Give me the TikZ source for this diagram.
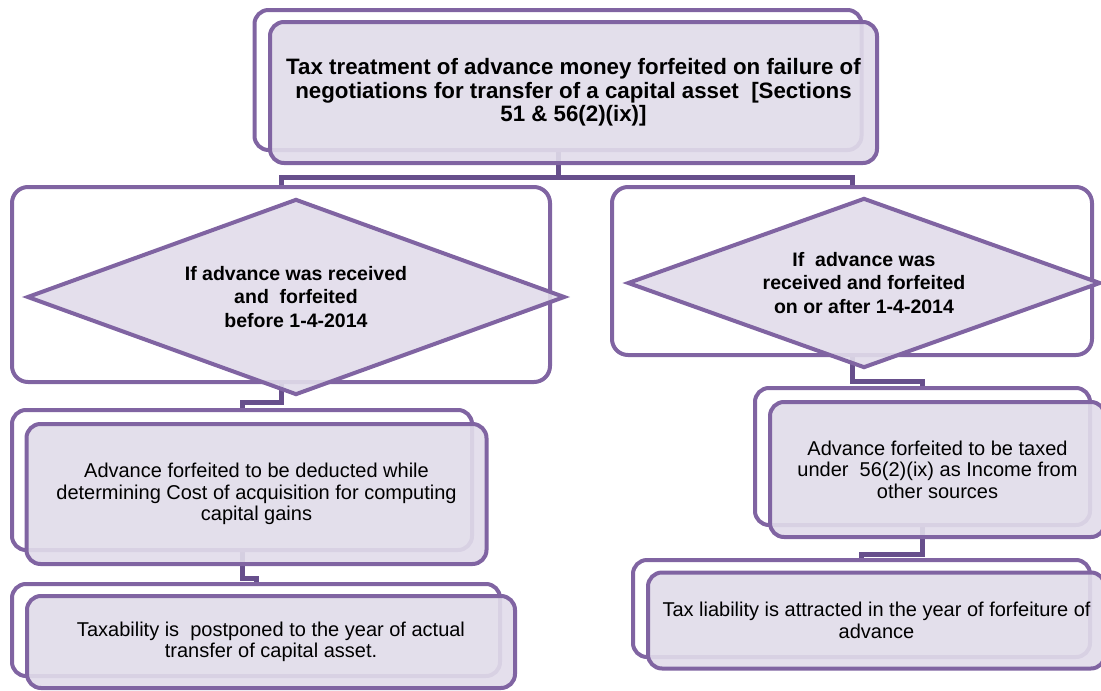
\documentclass[tikz,border=0pt]{standalone}
\usepackage{fontspec}
\setmainfont{Liberation Sans}
\usetikzlibrary{positioning}
\usetikzlibrary{shapes.geometric}
\usetikzlibrary{backgrounds}

\definecolor{boxline}{HTML}{8064A2}
\definecolor{boxfill}{HTML}{E1DCEA}
\definecolor{linkline}{HTML}{674F8C}

\begin{document}
\begin{tikzpicture}[
    x=1pt, y=-1pt,
    cardback/.style={draw=boxline, line width=4pt, rounded corners=14pt, fill=white},
    card/.style={draw=boxline, line width=4pt, rounded corners=14pt, fill=boxfill,
      fill opacity=0.91, text opacity=1, align=center,
      font=\fontsize{20}{21.5}\selectfont},
    panel/.style={draw=boxline, line width=4pt, rounded corners=16pt},
    cond/.style={diamond, draw=boxline, line width=4pt, fill=boxfill,
      fill opacity=0.91, text opacity=1, inner sep=0pt, align=center,
      font=\fontsize{19.5}{23.5}\selectfont\bfseries},
    branch/.style={draw=linkline, line width=5pt}
    ]

    \useasboundingbox (0,0) rectangle (1101,691);

    % heading
    \node[cardback, minimum width=607, minimum height=140] (head0) at (558,80) {};
    \node[card, minimum width=607, minimum height=141,
      font=\fontsize{22.3}{23.5}\selectfont\bfseries] (head) at ([shift={(15.5,12.5)}]head0)
      {Tax treatment of advance money forfeited on failure of\\
       negotiations for transfer of a capital asset~ [Sections\\
       51 \& 56(2)(ix)]};

    % left branch
    \node[panel, minimum width=538, minimum height=195] (lpanel) at (281,284.5) {};
    \node[cond, minimum width=538, minimum height=196, shape aspect=2.74] (lcond) at (296,297)
      {If advance was received\\and~ forfeited\\before 1-4-2014};

    \node[cardback, minimum width=460, minimum height=140] (cost0) at (242,480) {};
    \node[card, minimum width=460, minimum height=140] (cost) at ([shift={(14.5,14)}]cost0)
      {Advance forfeited to be deducted while\\
       determining Cost of acquisition for computing\\
       capital gains};

    \node[cardback, minimum width=488, minimum height=92] (defer0) at (256,630) {};
    \node[card, minimum width=488, minimum height=92] (defer) at ([shift={(15,12)}]defer0)
      {Taxability is~ postponed to the year of actual\\
       transfer of capital asset.};

    % right branch
    \node[panel, minimum width=480, minimum height=168] (rpanel) at (852,271) {};
    \node[cond, minimum width=473, minimum height=170, shape aspect=2.78] (rcond) at (864,283)
      {If~ advance was\\received and forfeited\\on or after 1-4-2014};

    \node[cardback, minimum width=335, minimum height=137] (income0) at (922.5,456.5) {};
    \node[card, minimum width=335, minimum height=135] (income) at ([shift={(15,13)}]income0)
      {Advance forfeited to be taxed\\
       under~ 56(2)(ix) as Income from\\
       other sources};

    \node[cardback, minimum width=457, minimum height=97] (levy0) at (861.5,608.5) {};
    \node[card, minimum width=457, minimum height=96] (levy) at ([shift={(15,12)}]levy0)
      {Tax liability is attracted in the year of forfeiture of\\
       advance};

    \begin{scope}[on background layer]
    \path[branch] (head0.south) -- ++(0,25) -| (lpanel.north)
      (head0.south) -- ++(0,25) -| (rpanel.north)
      (lpanel.south) -- ++(0,18) -| (cost0.north)
      (cost0.south) -- ++(0,26) -| (defer0.north)
      (rpanel.south) -- ++(0,24) -| (income0.north)
      (income0.south) -- ++(0,27) -| (levy0.north);
    \end{scope}

  \end{tikzpicture}
\end{document}
